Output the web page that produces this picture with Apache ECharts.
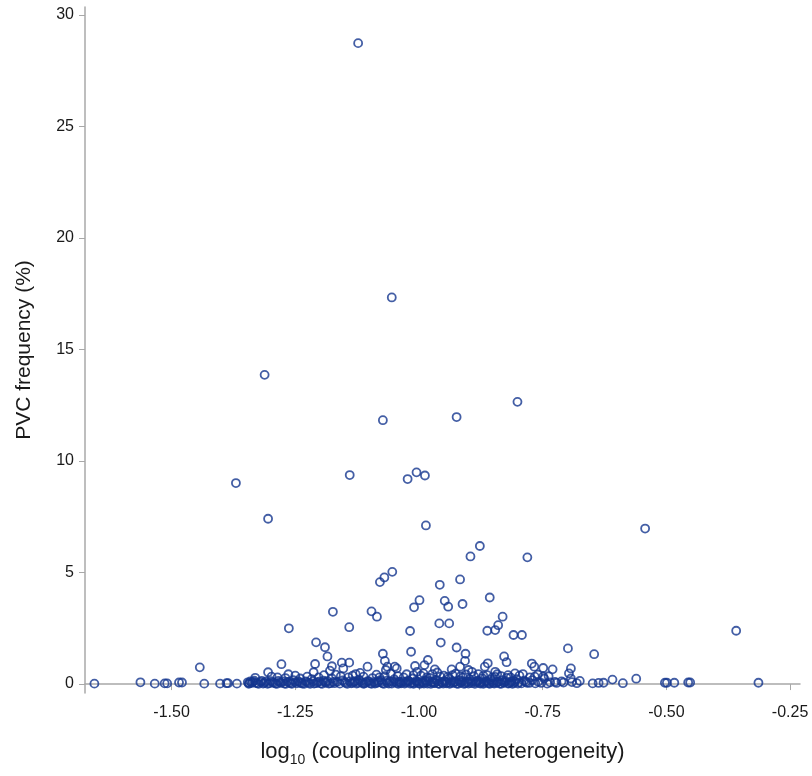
<!DOCTYPE html>
<html>
<head>
<meta charset="utf-8">
<script src="https://cdn.jsdelivr.net/npm/echarts@6/dist/echarts.min.js"></script>
<style>
  html, body { margin: 0; padding: 0; background: #fff; }
  #chart { width: 812px; height: 776px; }
</style>
</head>
<body>
<div id="chart"></div>
<script>
// tick labels
var xTicks = [-1.5, -1.25, -1.0, -0.75, -0.5, -0.25];
var yTicks = [0, 5, 10, 15, 20, 25, 30];

// [log10 heterogeneity, PVC %]
var peakPoints = [
  [-1.123, 28.73], [-1.055, 17.33], [-1.312, 13.86], [-0.801, 12.65], [-1.073, 11.83],
  [-0.924, 11.97], [-1.370, 9.01], [-1.140, 9.37], [-1.023, 9.19], [-1.005, 9.49],
  [-0.988, 9.35], [-1.305, 7.41], [-0.986, 7.11], [-0.543, 6.97], [-0.877, 6.19],
  [-0.896, 5.72], [-0.781, 5.68], [-1.054, 5.03]
];

var midPoints = [
  [-1.070, 4.78], [-1.079, 4.57], [-0.917, 4.69], [-0.958, 4.45], [-0.999, 3.76],
  [-1.010, 3.44], [-0.948, 3.73], [-0.941, 3.47], [-0.912, 3.59], [-0.857, 3.88],
  [-1.174, 3.24], [-1.096, 3.26], [-1.085, 3.02], [-0.831, 3.02], [-1.263, 2.50],
  [-1.141, 2.55], [-1.018, 2.38], [-0.959, 2.72], [-0.939, 2.72], [-0.840, 2.64],
  [-0.846, 2.42], [-0.862, 2.39], [-0.809, 2.20], [-0.792, 2.20], [-0.359, 2.39],
  [-1.208, 1.87], [-1.190, 1.65], [-1.185, 1.24], [-0.956, 1.86], [-0.924, 1.64],
  [-0.699, 1.60], [-1.016, 1.45], [-0.906, 1.36], [-0.646, 1.34], [-1.073, 1.36],
  [-0.828, 1.24], [-0.982, 1.08], [-0.907, 1.04], [-1.069, 1.04], [-0.823, 0.98]
];

var lowPoints = [
  [-1.443, 0.75], [-1.278, 0.89], [-1.305, 0.53], [-1.264, 0.44], [-1.250, 0.38],
  [-1.210, 0.90], [-1.213, 0.53], [-1.176, 0.80], [-1.180, 0.60], [-1.156, 0.96],
  [-1.141, 0.96], [-1.153, 0.70], [-1.104, 0.78], [-1.119, 0.50], [-1.064, 0.78],
  [-1.049, 0.78], [-1.045, 0.70], [-1.067, 0.63], [-1.008, 0.81], [-0.989, 0.85],
  [-1.004, 0.55], [-0.991, 0.48], [-0.861, 0.93], [-0.772, 0.92], [-0.767, 0.78],
  [-0.749, 0.72], [-0.730, 0.66], [-0.693, 0.70], [-0.697, 0.48], [-0.561, 0.24],
  [-0.609, 0.20], [-0.693, 0.25], [-0.712, 0.12], [-0.725, 0.10], [-0.968, 0.66],
  [-0.934, 0.66], [-0.917, 0.78], [-0.900, 0.63], [-0.867, 0.78], [-0.846, 0.55],
  [-0.806, 0.48], [-0.784, 0.10], [-0.766, 0.33], [-0.749, 0.33],
  [-1.331, 0.28], [-1.298, 0.33], [-1.270, 0.27], [-1.226, 0.33], [-1.203, 0.30],
  [-1.168, 0.42], [-1.134, 0.38], [-1.112, 0.33], [-1.080, 0.30], [-1.043, 0.36],
  [-1.011, 0.40], [-0.984, 0.30], [-0.963, 0.52], [-0.942, 0.32], [-0.916, 0.35],
  [-0.893, 0.55], [-0.870, 0.37], [-0.852, 0.30], [-0.834, 0.36], [-0.815, 0.30],
  [-0.790, 0.45], [-0.760, 0.42], [-0.738, 0.35]
];

var floorPoints = [
  [-1.656, 0.02], [-1.563, 0.08], [-1.534, 0.02], [-1.514, 0.03], [-1.509, 0.03],
  [-1.485, 0.07], [-1.479, 0.07], [-1.434, 0.02], [-1.402, 0.02], [-1.389, 0.04],
  [-1.386, 0.04], [-1.368, 0.02], [-1.346, 0.08], [-1.341, 0.12], [-1.343, 0.04],
  [-1.338, 0.05], [-1.333, 0.15], [-1.327, 0.03], [-1.320, 0.09], [-1.315, 0.02],
  [-1.309, 0.12], [-1.302, 0.04], [-1.296, 0.08], [-1.290, 0.02], [-1.284, 0.14],
  [-1.279, 0.05], [-1.272, 0.02], [-1.266, 0.10], [-1.259, 0.04], [-1.254, 0.18],
  [-1.247, 0.03], [-1.241, 0.07], [-1.236, 0.02], [-1.229, 0.12], [-1.223, 0.05],
  [-1.217, 0.22], [-1.212, 0.02], [-1.205, 0.08], [-1.199, 0.03], [-1.193, 0.15],
  [-1.188, 0.06], [-1.182, 0.02], [-1.176, 0.25], [-1.171, 0.04], [-1.165, 0.10],
  [-1.160, 0.02], [-1.154, 0.16], [-1.148, 0.05], [-1.143, 0.30], [-1.137, 0.03],
  [-1.131, 0.09], [-1.126, 0.02], [-1.121, 0.20], [-1.115, 0.06], [-1.110, 0.03],
  [-1.104, 0.13], [-1.099, 0.04], [-1.094, 0.27], [-1.089, 0.02], [-1.083, 0.08],
  [-1.078, 0.18], [-1.074, 0.03], [-1.069, 0.35], [-1.064, 0.06], [-1.059, 0.12],
  [-1.055, 0.02], [-1.050, 0.22], [-1.045, 0.05], [-1.040, 0.10], [-1.036, 0.03],
  [-1.031, 0.30], [-1.027, 0.07], [-1.022, 0.15], [-1.018, 0.02], [-1.013, 0.25],
  [-1.009, 0.05], [-1.004, 0.11], [-1.000, 0.03], [-0.996, 0.38], [-0.992, 0.06],
  [-0.987, 0.16], [-0.983, 0.02], [-0.978, 0.28], [-0.974, 0.08], [-0.970, 0.04],
  [-0.966, 0.19], [-0.961, 0.02], [-0.957, 0.33], [-0.953, 0.07], [-0.949, 0.13],
  [-0.945, 0.03], [-0.940, 0.24], [-0.936, 0.05], [-0.932, 0.40], [-0.928, 0.10],
  [-0.924, 0.02], [-0.919, 0.18], [-0.915, 0.06], [-0.911, 0.30], [-0.906, 0.03],
  [-0.902, 0.12], [-0.898, 0.22], [-0.894, 0.04], [-0.889, 0.35], [-0.885, 0.08],
  [-0.881, 0.15], [-0.876, 0.02], [-0.872, 0.26], [-0.868, 0.06], [-0.863, 0.11],
  [-0.859, 0.03], [-0.855, 0.20], [-0.850, 0.05], [-0.846, 0.32], [-0.841, 0.09],
  [-0.837, 0.02], [-0.832, 0.17], [-0.828, 0.06], [-0.823, 0.28], [-0.818, 0.03],
  [-0.813, 0.12], [-0.808, 0.05], [-0.803, 0.22], [-0.798, 0.08], [-0.793, 0.03],
  [-0.788, 0.15], [-0.777, 0.05], [-0.771, 0.18], [-0.765, 0.03], [-0.759, 0.10],
  [-0.753, 0.05], [-0.747, 0.25], [-0.741, 0.02], [-0.735, 0.08],
  [-1.286, 0.30], [-1.240, 0.25], [-1.192, 0.40], [-1.158, 0.35], [-1.128, 0.45],
  [-1.086, 0.42], [-1.057, 0.47], [-1.025, 0.44], [-0.973, 0.45], [-0.950, 0.38],
  [-0.926, 0.47], [-0.905, 0.43], [-0.880, 0.45], [-0.862, 0.40], [-0.842, 0.44],
  [-0.820, 0.40], [-0.797, 0.38], [-0.776, 0.30],
  [-0.782, 0.06], [-0.722, 0.05], [-0.708, 0.07], [-0.691, 0.09], [-0.681, 0.04],
  [-0.675, 0.14], [-0.649, 0.03], [-0.637, 0.05], [-0.627, 0.06], [-0.588, 0.04],
  [-0.503, 0.06], [-0.499, 0.06], [-0.484, 0.06], [-0.456, 0.07], [-0.452, 0.07],
  [-0.314, 0.06]
];

// second row of the packed band near zero
var bandPoints = [
  [-1.344, 0.01], [-1.336, 0.10], [-1.330, 0.06], [-1.324, 0.01], [-1.318, 0.14],
  [-1.312, 0.06], [-1.306, 0.01], [-1.299, 0.13], [-1.293, 0.06], [-1.287, 0.01],
  [-1.281, 0.09], [-1.275, 0.12], [-1.269, 0.01], [-1.262, 0.07], [-1.257, 0.01],
  [-1.250, 0.09], [-1.244, 0.13], [-1.238, 0.05], [-1.232, 0.01], [-1.226, 0.09],
  [-1.220, 0.01], [-1.214, 0.12], [-1.208, 0.04], [-1.202, 0.11], [-1.196, 0.01],
  [-1.190, 0.09], [-1.185, 0.13], [-1.179, 0.04], [-1.173, 0.10], [-1.151, 0.10],
  [-1.145, 0.01], [-1.140, 0.12], [-1.134, 0.06], [-1.129, 0.13], [-1.123, 0.06],
  [-1.118, 0.11], [-1.112, 0.01], [-1.107, 0.08], [-1.101, 0.12], [-1.096, 0.01],
  [-1.091, 0.09], [-1.086, 0.05], [-1.081, 0.12], [-1.076, 0.09], [-1.071, 0.01],
  [-1.066, 0.14], [-1.061, 0.02], [-1.052, 0.09], [-1.047, 0.13], [-1.042, 0.01],
  [-1.038, 0.07], [-1.033, 0.11], [-1.029, 0.02], [-1.024, 0.09], [-1.020, 0.12],
  [-1.015, 0.06], [-1.011, 0.01], [-1.006, 0.14], [-1.002, 0.08], [-0.998, 0.01],
  [-0.994, 0.11], [-0.990, 0.02], [-0.985, 0.09], [-0.980, 0.13], [-0.976, 0.01],
  [-0.972, 0.10], [-0.968, 0.06], [-0.963, 0.12], [-0.959, 0.01], [-0.955, 0.09],
  [-0.951, 0.02], [-0.947, 0.11], [-0.943, 0.07], [-0.938, 0.01], [-0.934, 0.13],
  [-0.930, 0.06], [-0.926, 0.11], [-0.921, 0.01], [-0.917, 0.09], [-0.913, 0.13],
  [-0.909, 0.01], [-0.904, 0.08], [-0.900, 0.02], [-0.896, 0.10], [-0.892, 0.13],
  [-0.887, 0.01], [-0.883, 0.11], [-0.878, 0.05], [-0.874, 0.09], [-0.870, 0.01],
  [-0.866, 0.13], [-0.861, 0.07], [-0.857, 0.01], [-0.852, 0.12], [-0.848, 0.02],
  [-0.843, 0.06], [-0.839, 0.11], [-0.834, 0.01], [-0.830, 0.09], [-0.825, 0.13],
  [-0.820, 0.02], [-0.816, 0.07], [-0.811, 0.01], [-0.806, 0.11], [-0.800, 0.02]
];

var allPoints = peakPoints.concat(midPoints, lowPoints, floorPoints, bandPoints);

var myChart = echarts.init(document.getElementById('chart'));

var axisGray = '#a8a8a8';
var font = 'Liberation Sans, Arial, sans-serif';

var option = {
  backgroundColor: '#fff',
  animation: false,
  grid: { left: 85, right: 12, top: 7, bottom: 83 },
  xAxis: {
    type: 'value',
    min: -1.675,
    max: -0.23,
    name: '{a|log}{sub|10}{a| (coupling interval heterogeneity)}',
    nameLocation: 'middle',
    nameGap: 44,
    nameTextStyle: {
      rich: {
        a: { fontSize: 22, fontFamily: font, color: '#1a1a1a', lineHeight: 30, verticalAlign: 'middle' },
        sub: { fontSize: 14, fontFamily: font, color: '#1a1a1a', lineHeight: 14, verticalAlign: 'bottom' }
      }
    },
    axisLine: { lineStyle: { color: axisGray, width: 1.5 } },
    axisTick: { show: true, length: 6, lineStyle: { color: axisGray }, customValues: xTicks },
    axisLabel: {
      customValues: xTicks,
      formatter: function (v) { return v.toFixed(2); },
      fontSize: 16, fontFamily: font, color: '#1a1a1a', margin: 12
    },
    splitLine: { show: false }
  },
  yAxis: {
    type: 'value',
    min: -0.4,
    max: 30.35,
    name: 'PVC frequency (%)',
    nameLocation: 'middle',
    nameGap: 50,
    nameTextStyle: { fontSize: 21, fontFamily: font, color: '#1a1a1a' },
    axisLine: { show: true, lineStyle: { color: axisGray, width: 1.5 } },
    axisTick: { show: true, length: 6, lineStyle: { color: axisGray }, customValues: yTicks },
    axisLabel: {
      customValues: yTicks,
      fontSize: 16, fontFamily: font, color: '#1a1a1a', margin: 11
    },
    splitLine: { show: false }
  },
  series: [
    {
      type: 'scatter',
      data: allPoints,
      symbol: 'circle',
      symbolSize: 8,
      itemStyle: { color: 'rgba(0,0,0,0)', borderColor: '#14368f', borderWidth: 1.8 }
    }
  ]
};

myChart.setOption(option);
</script>
</body>
</html>
